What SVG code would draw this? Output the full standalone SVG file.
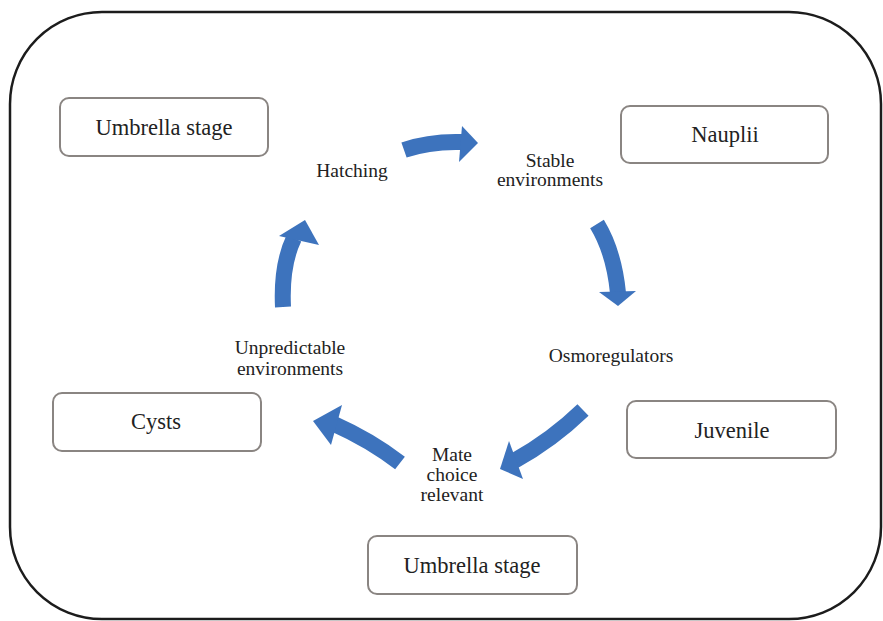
<svg xmlns="http://www.w3.org/2000/svg" width="883" height="621" viewBox="0 0 883 621">
  <style>
    .frame { fill: #ffffff; stroke: #1c1c1c; stroke-width: 2.5; }
    .box { fill: #ffffff; stroke: #8a8582; stroke-width: 2; }
    .box-text { font-family: "Liberation Serif", "Times New Roman", serif; font-size: 22.5px; fill: #222222; text-anchor: middle; }
    .label { font-family: "Liberation Serif", "Times New Roman", serif; font-size: 19.5px; fill: #222222; text-anchor: middle; }
    .band { fill: none; stroke: #3d73bd; stroke-width: 16; stroke-linecap: butt; }
    .head { fill: #3d73bd; }
  </style>

  <!-- outer frame -->
  <rect class="frame" x="10" y="12" width="871" height="607" rx="92" ry="92"/>

  <!-- stage boxes -->
  <g id="umbrella-top">
    <rect class="box" x="60" y="98" width="208" height="58" rx="9"/>
    <text class="box-text" x="164" y="135">Umbrella stage</text>
  </g>
  <g id="nauplii">
    <rect class="box" x="621" y="106" width="207" height="57" rx="9"/>
    <text class="box-text" x="725" y="142">Nauplii</text>
  </g>
  <g id="cysts">
    <rect class="box" x="53" y="393" width="208" height="58" rx="9"/>
    <text class="box-text" x="156" y="429">Cysts</text>
  </g>
  <g id="juvenile">
    <rect class="box" x="627" y="401" width="209" height="57" rx="9"/>
    <text class="box-text" x="732" y="438">Juvenile</text>
  </g>
  <g id="umbrella-bottom">
    <rect class="box" x="368" y="536" width="209" height="58" rx="9"/>
    <text class="box-text" x="472" y="573">Umbrella stage</text>
  </g>

  <!-- cycle labels -->
  <g id="hatching">
    <text class="label" x="352" y="177">Hatching</text>
  </g>
  <g id="stable">
    <text class="label" x="550" y="167">Stable</text>
    <text class="label" x="550" y="186">environments</text>
  </g>
  <g id="osmoregulators">
    <text class="label" x="611" y="362">Osmoregulators</text>
  </g>
  <g id="mate-choice">
    <text class="label" x="452" y="461">Mate</text>
    <text class="label" x="452" y="481">choice</text>
    <text class="label" x="452" y="501">relevant</text>
  </g>
  <g id="unpredictable">
    <text class="label" x="290" y="354">Unpredictable</text>
    <text class="label" x="290" y="375">environments</text>
  </g>

  <!-- curved cycle arrows (clockwise) -->
  <g id="connectors">
    <path class="band" d="M404,150 Q430,141 462,142"/>
    <polygon class="head" points="462,126 478,143 459,162"/>

    <path class="band" d="M597,224 Q614,252 618,293"/>
    <polygon class="head" points="599,292 618,306 636,291"/>

    <path class="band" d="M583,410 Q552,440 514,461"/>
    <polygon class="head" points="509,441 500,469 523,479"/>

    <path class="band" d="M400,463 Q370,440 334,424"/>
    <polygon class="head" points="342,405 313,421 331,445"/>

    <path class="band" d="M283,307 Q281,265 294,238"/>
    <polygon class="head" points="279,236 305,220 319,245"/>
  </g>
</svg>
